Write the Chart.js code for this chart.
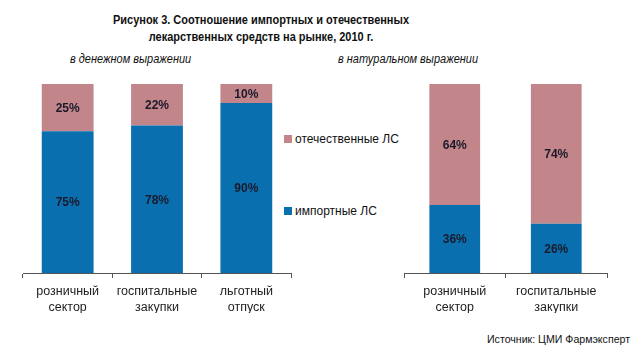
<!DOCTYPE html>
<html><head><meta charset="utf-8">
<script src="https://cdn.jsdelivr.net/npm/chart.js@4.4.1/dist/chart.umd.min.js"></script>
<style>
html,body{margin:0;padding:0;background:#fff;}
body{width:639px;height:354px;position:relative;overflow:hidden;font-family:"Liberation Sans",Arial,sans-serif;color:#111;}
#title{position:absolute;left:0;width:522px;top:12px;text-align:center;font-weight:bold;font-size:12px;line-height:17px;transform:scaleX(0.915);transform-origin:261px 0;}
.sub{position:absolute;top:52px;font-style:italic;font-size:12px;transform:scaleX(0.915);transform-origin:0 0;}
.leg{position:absolute;left:284px;font-size:12px;}
.leg span{display:inline-block;width:8px;height:8px;margin-right:3px;vertical-align:0px;}
#src{position:absolute;left:487px;top:333px;font-size:10.6px;}
canvas{position:absolute;left:0;top:0;}
</style></head>
<body>
<div id="title">Рисунок 3. Соотношение импортных и отечественных<br>лекарственных средств на рынке, 2010 г.</div>
<div class="sub" style="left:70px">в денежном выражении</div>
<div class="sub" style="left:338px">в натуральном выражении</div>
<div class="leg" style="top:132px"><span style="background:#c1858a"></span>отечественные ЛС</div>
<div class="leg" style="top:204px"><span style="background:#0a6fae"></span>импортные ЛС</div>
<div id="src">Источник: ЦМИ Фармэксперт</div>
<canvas id="c1" width="639" height="354"></canvas>
<canvas id="c2" width="639" height="354"></canvas>
<script>
const categoriesMoney = [["розничный","сектор"],["госпитальные","закупки"],["льготный","отпуск"]];
const importMoney = [75, 78, 90];
const domesticMoney = [25, 22, 10];
const categoriesNatural = [["розничный","сектор"],["госпитальные","закупки"]];
const importNatural = [36, 26];
const domesticNatural = [64, 74];
const seriesNames = ["импортные ЛС", "отечественные ЛС"];
const BLUE = "#0a6fae", PINK = "#c1858a";

const valueLabels = {
  id: 'valueLabels',
  afterDatasetsDraw(chart) {
    const ctx = chart.ctx;
    ctx.save();
    ctx.font = 'bold 12px "Liberation Sans", Arial, sans-serif';
    ctx.fillStyle = '#1a1a2a';
    ctx.textAlign = 'center';
    ctx.textBaseline = 'middle';
    chart.data.datasets.forEach((ds, i) => {
      chart.getDatasetMeta(i).data.forEach((bar, j) => {
        const p = bar.getProps(['x','y','base'], true);
        ctx.fillText(ds.data[j] + '%', p.x, (p.y + p.base) / 2 + 1);
      });
    });
    ctx.restore();
  }
};

function makeChart(id, cats, imp, dom, pad, barPct) {
  return new Chart(document.getElementById(id), {
    type: 'bar',
    data: {
      labels: cats,
      datasets: [
        {label: seriesNames[0], data: imp, backgroundColor: BLUE, barPercentage: barPct, categoryPercentage: 1},
        {label: seriesNames[1], data: dom, backgroundColor: PINK, barPercentage: barPct, categoryPercentage: 1}
      ]
    },
    options: {
      responsive: false,
      animation: false,
      layout: {padding: pad},
      plugins: {legend: {display: false}, tooltip: {enabled: false}, title: {display: false}},
      scales: {
        x: {
          stacked: true,
          grid: {display: true, drawOnChartArea: false, drawTicks: true, tickLength: 5, color: '#555', offset: true},
          border: {display: true, color: '#555', width: 1},
          ticks: {color: '#222', font: {family: '"Liberation Sans", Arial, sans-serif', size: 12.5, lineHeight: 1.25}, padding: 6, maxRotation: 0},
          afterFit(scale) { scale.height = 40; }
        },
        y: {stacked: true, display: false, min: 0, max: 100}
      }
    },
    plugins: [valueLabels]
  });
}
makeChart('c1', categoriesMoney, importMoney, domesticMoney, {left: 23, right: 348, top: 84, bottom: 41}, 0.58);
makeChart('c2', categoriesNatural, importNatural, domesticNatural, {left: 404, right: 32, top: 84, bottom: 41}, 0.5);
</script>
</body></html>
